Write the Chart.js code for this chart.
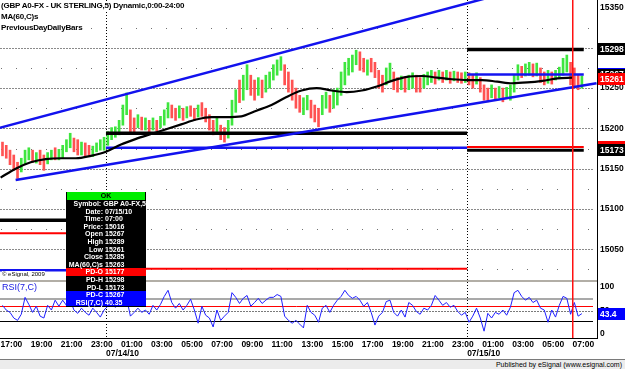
<!DOCTYPE html>
<html>
<head>
<meta charset="utf-8">
<script src="https://cdn.jsdelivr.net/npm/chart.js@4.4.0/dist/chart.umd.min.js"></script>
<style>
body { margin: 0; background: #fff; }
#wrap { position: relative; width: 625px; height: 369px; overflow: hidden; font-family: 'Liberation Sans', Arial, sans-serif; }
#chart { position: absolute; left: 0; top: 0; }
.hdr { position: absolute; left: 1px; font-size: 8px; font-weight: bold; letter-spacing: -0.2px; line-height: 10px; background: #fff; white-space: nowrap; color: #000; }
#tip { position: absolute; left: 66px; top: 192px; width: 80px; background: #000; color: #fff; font-size: 7px; font-weight: bold; padding-bottom: 1px; }
#tip .ok { background: #00ee00; color: #000; text-align: center; height: 8px; line-height: 8px; margin: 0 1px; }
#tip .row { display: flex; height: 7.6px; line-height: 7.6px; white-space: nowrap; }
#tip .k { width: 37px; text-align: right; }
#tip .v { padding-left: 2px; }
#tip .red { background: #ff0000; }
#tip .blue { background: #0000ff; }
#copy { position: absolute; left: 2px; top: 271px; font-size: 6px; line-height: 7px; background: #fff; color: #000; }
#rsiTitle { position: absolute; left: 2px; top: 282px; font-size: 9px; line-height: 10px; color: #1818e0; }
#pub { position: absolute; left: 0; top: 359px; width: 622px; height: 10px; padding-right: 3px; background: #ececec; border-top: 1px solid #7a7a7a; font-size: 7px; line-height: 9px; text-align: right; color: #000; }
</style>
</head>
<body>
<div id="wrap">
  <canvas id="chart" width="625" height="369"></canvas>
  <div class="hdr" style="top:1px">(GBP A0-FX - UK STERLING,5) Dynamic,0:00-24:00</div>
  <div class="hdr" style="top:12px">MA(60,C)s</div>
  <div class="hdr" style="top:23px">PreviousDayDailyBars</div>
  <div id="copy">&copy; eSignal, 2009</div>
  <div id="rsiTitle">RSI(7,C)</div>
  <div id="tip"></div>
  <div id="pub">Published by eSignal (www.esignal.com)</div>
</div>
<script>
'use strict';

// time axis: hours counted from 07/13/10 16:00
var timeTickHours = [1, 3, 5, 7, 9, 11, 13, 15, 17, 19, 21, 23, 25, 27, 29, 31, 33, 35, 37, 39];
var timeLabels = ['17:00', '19:00', '21:00', '23:00', '01:00', '03:00', '05:00', '07:00', '09:00', '11:00',
  '13:00', '15:00', '17:00', '19:00', '21:00', '23:00', '01:00', '03:00', '05:00', '07:00'];
var dateTickHours = [8, 32];
var dateLabels = ['07/14/10', '07/15/10'];

// 15 minute bars starting 07/13 17:00
var firstBarHour = 1;
var barHours = 0.25;
var highs = [
  15183, 15179, 15173, 15167, 15158, 15163, 15173, 15176, 15173, 15170,
  15173, 15167, 15170, 15173, 15176, 15174, 15179, 15186, 15194, 15188,
  15186, 15183, 15182, 15179, 15178, 15182, 15186, 15189, 15196, 15201,
  15202, 15210, 15229, 15244, 15223, 15213, 15217, 15214, 15213, 15210,
  15213, 15210, 15215, 15223, 15232, 15229, 15225, 15228, 15225, 15227,
  15228, 15225, 15229, 15232, 15225, 15217, 15210, 15213, 15204, 15201,
  15210, 15235, 15248, 15260, 15266, 15279, 15266, 15260, 15263, 15260,
  15266, 15270, 15279, 15285, 15289, 15279, 15270, 15260, 15250, 15241,
  15238, 15241, 15235, 15229, 15225, 15241, 15245, 15241, 15248, 15250,
  15270, 15282, 15287, 15291, 15297, 15295, 15287, 15285, 15287, 15282,
  15272, 15266, 15275, 15281, 15270, 15263, 15265, 15263, 15266, 15269,
  15266, 15263, 15267, 15270, 15272, 15270, 15272, 15270, 15272, 15270,
  15271, 15270, 15269, 15270, 15269, 15266, 15269, 15263, 15254, 15250,
  15254, 15250, 15252, 15250, 15251, 15254, 15266, 15279, 15277, 15280,
  15282, 15280, 15281, 15275, 15270, 15272, 15270, 15272, 15276, 15287,
  15291, 15282, 15275, 15266, 15265
];
var lows = [
  15166, 15163, 15155, 15148, 15138, 15146, 15155, 15161, 15158, 15157,
  15155, 15148, 15156, 15161, 15161, 15161, 15163, 15171, 15176, 15171,
  15167, 15167, 15165, 15166, 15165, 15171, 15173, 15173, 15179, 15186,
  15189, 15192, 15204, 15217, 15194, 15194, 15201, 15198, 15198, 15196,
  15198, 15197, 15201, 15204, 15213, 15213, 15210, 15213, 15210, 15213,
  15215, 15210, 15214, 15215, 15208, 15198, 15192, 15194, 15186, 15183,
  15188, 15204, 15220, 15232, 15235, 15248, 15241, 15235, 15241, 15238,
  15245, 15250, 15260, 15266, 15272, 15254, 15245, 15235, 15225, 15220,
  15217, 15223, 15213, 15208, 15202, 15217, 15225, 15220, 15225, 15229,
  15241, 15254, 15266, 15270, 15279, 15272, 15270, 15266, 15270, 15263,
  15250, 15245, 15254, 15260, 15248, 15245, 15248, 15245, 15248, 15250,
  15245, 15245, 15250, 15254, 15257, 15255, 15260, 15257, 15260, 15256,
  15259, 15257, 15256, 15257, 15254, 15250, 15255, 15245, 15235, 15233,
  15238, 15235, 15238, 15233, 15237, 15235, 15245, 15260, 15263, 15265,
  15266, 15264, 15265, 15257, 15254, 15256, 15255, 15260, 15263, 15266,
  15270, 15254, 15250, 15248, 15250
];
var closes = [
  15170, 15167, 15160, 15153, 15143, 15159, 15169, 15172, 15162, 15167,
  15160, 15153, 15167, 15170, 15165, 15171, 15175, 15182, 15190, 15175,
  15172, 15179, 15169, 15169, 15175, 15179, 15183, 15185, 15192, 15197,
  15199, 15206, 15223, 15237, 15201, 15199, 15213, 15202, 15209, 15200,
  15209, 15200, 15211, 15218, 15227, 15217, 15214, 15224, 15214, 15223,
  15218, 15214, 15225, 15219, 15212, 15203, 15196, 15208, 15190, 15187,
  15204, 15227, 15241, 15239, 15258, 15271, 15247, 15241, 15257, 15243,
  15261, 15265, 15274, 15280, 15285, 15260, 15251, 15241, 15231, 15225,
  15233, 15236, 15218, 15213, 15208, 15235, 15240, 15225, 15242, 15245,
  15263, 15275, 15282, 15286, 15292, 15278, 15274, 15280, 15274, 15268,
  15256, 15250, 15270, 15276, 15253, 15249, 15261, 15249, 15262, 15264,
  15250, 15249, 15263, 15266, 15268, 15259, 15269, 15260, 15269, 15259,
  15268, 15260, 15259, 15267, 15258, 15254, 15266, 15249, 15240, 15237,
  15250, 15239, 15249, 15237, 15248, 15250, 15261, 15274, 15266, 15276,
  15278, 15268, 15277, 15261, 15258, 15268, 15259, 15269, 15273, 15282,
  15286, 15261, 15256, 15252, 15261
];
var rsiValues = [
  61, 51, 46, 34, 29, 42, 78, 63, 46, 59,
  38, 34, 61, 51, 72, 59, 72, 61, 72, 51,
  44, 55, 46, 40, 55, 46, 36, 51, 59, 63,
  57, 63, 72, 76, 38, 46, 55, 46, 51, 42,
  61, 51, 63, 80, 93, 67, 55, 65, 51, 61,
  74, 51, 23, 59, 40, 34, 15, 51, 29, 38,
  46, 88, 78, 65, 76, 82, 59, 67, 76, 65,
  72, 78, 78, 84, 80, 38, 29, 23, 29, 21,
  13, 61, 46, 40, 25, 55, 61, 46, 61, 72,
  80, 93, 82, 76, 80, 72, 59, 67, 46, 19,
  38, 46, 69, 72, 46, 38, 51, 36, 67, 61,
  48, 42, 55, 51, 61, 82, 72, 61, 67, 57,
  61, 48, 40, 46, 25, 38, 55, 34, 6, 44,
  34, 46, 42, 51, 40, 57, 88, 93, 80, 72,
  78, 67, 72, 55, 51, 25, 51, 36, 61, 80,
  76, 42, 67, 38, 43.4
];

// MA(60,C) read once per hour from 17:00
var maValues = [
  15139, 15150, 15158, 15162, 15163, 15163, 15166, 15171, 15180, 15187,
  15193, 15199, 15205, 15211, 15214, 15214, 15215, 15222, 15229, 15239,
  15247, 15250, 15247, 15245, 15247, 15252, 15259, 15264, 15265, 15263,
  15261, 15260, 15260, 15258, 15256, 15257, 15259, 15262, 15263
];

// previous day levels per session (07/13, 07/14, 07/15)
var sessionStartHours = [0, 8, 32];
var sessionEndHours = [8, 32, 39.75];
var pdHigh = [15086, 15194, 15298];
var pdOpen = [15070, 15026, 15177];
var pdClose = [15024, 15176, 15267];
var pdLow = [null, null, 15173];

// hand drawn trend channel
var upperTrendHours = [0, 41];
var upperTrendPrices = [15196, 15400];
var lowerTrendHours = [2, 40.6];
var lowerTrendPrices = [15136, 15256];

var cursorHour = 39;
var priceTicks = [15050, 15100, 15150, 15200, 15250, 15300, 15350];
var priceGrid = [15050, 15100, 15150, 15200, 15250, 15300];
var priceDotRows = [15025, 15075, 15125, 15175, 15225, 15275, 15325];
var rsiTicks = [0, 50, 100];
var rsiLevels = [74, 60, 50, 28];
var lastPrice = 15261;

// boxed labels on the price axis
var markerNames = ['PD-H', 'PD-C', 'PD-O', 'PD-L', 'Last'];
var markerValues = [15298, 15267, 15177, 15173, lastPrice];

// data window
var tipKeys = ['Symbol:', 'Date:', 'Time:', 'Price:', 'Open', 'High', 'Low', 'Close', 'MA(60,C)s', 'PD-O', 'PD-H', 'PD-L', 'PD-C', 'RSI(7,C)'];
var tipValues = ['GBP A0-FX,5', '07/15/10', '07:00', '15016', '15267', '15289', '15261', '15285', '15263', '15177', '15298', '15173', '15267', '40.35'];

var markerStyle = {
  'PD-H': { bg: '#000', fg: '#fff' },
  'PD-C': { bg: '#000', fg: '#fff', top: '#0000ff' },
  'PD-O': { bg: '#ff0000', fg: '#fff' },
  'PD-L': { bg: '#000', fg: '#fff' },
  'Last': { bg: '#ff0000', fg: '#fff' }
};
var rsiLevelStyle = [
  { color: '#a9a9a9', width: 2, dash: [] },
  { color: '#ff0000', width: 1, dash: [] },
  { color: '#7a7a7a', width: 1, dash: [2, 1] },
  { color: '#000000', width: 1, dash: [] }
];

// build the data window
var tip = document.getElementById('tip');
var html = '<div class="ok">OK</div>';
for (var t = 0; t < tipKeys.length; t++) {
  var cls = 'row';
  if (tipKeys[t] === 'PD-O') cls += ' red';
  if (tipKeys[t] === 'PD-C' || tipKeys[t] === 'RSI(7,C)') cls += ' blue';
  html += '<div class="' + cls + '"><span class="k">' + tipKeys[t] + '</span><span class="v">' + tipValues[t] + '</span></div>';
}
tip.innerHTML = html;

// bars, rsi and ma points
var barPoints = [];
var barColors = [];
var rsiPoints = [];
for (var i = 0; i < closes.length; i++) {
  var hour = firstBarHour + (i + 0.5) * barHours;
  barPoints.push({ x: hour, y: [lows[i], highs[i]] });
  barColors.push(closes[i] > (highs[i] + lows[i]) / 2 ? '#3ee63e' : '#ff5252');
  rsiPoints.push({ x: hour, y: rsiValues[i] });
}
var maPoints = maValues.map(function (v, k) { return { x: firstBarHour + k, y: v }; });

function segment(hours, prices) {
  return [{ x: hours[0], y: prices[0] }, { x: hours[1], y: prices[1] }];
}

var datasets = [];
datasets.push({ type: 'line', data: rsiPoints, yAxisID: 'yRSI', borderColor: '#1f1fff', borderWidth: 1, pointRadius: 0, order: 1 });
datasets.push({ type: 'line', data: segment(upperTrendHours, upperTrendPrices), yAxisID: 'yPrice', borderColor: '#1212ee', borderWidth: 2.5, pointRadius: 0, order: 2 });
datasets.push({ type: 'line', data: segment(lowerTrendHours, lowerTrendPrices), yAxisID: 'yPrice', borderColor: '#1212ee', borderWidth: 2.5, pointRadius: 0, order: 2 });
datasets.push({ type: 'line', data: maPoints, yAxisID: 'yPrice', borderColor: '#000', borderWidth: 2.2, pointRadius: 0, cubicInterpolationMode: 'monotone', order: 3 });

var pdSets = [
  { values: pdHigh, color: '#000', width: 3.5 },
  { values: pdLow, color: '#000', width: 3 },
  { values: pdOpen, color: '#ff0000', width: 2 },
  { values: pdClose, color: '#1414f0', width: 2.5 }
];
pdSets.forEach(function (s) {
  for (var d = 0; d < sessionStartHours.length; d++) {
    if (s.values[d] === null) continue;
    datasets.push({
      type: 'line',
      data: [{ x: sessionStartHours[d], y: s.values[d] }, { x: sessionEndHours[d], y: s.values[d] }],
      yAxisID: 'yPrice', borderColor: s.color, borderWidth: s.width, pointRadius: 0, order: 4
    });
  }
});
datasets.push({ type: 'bar', data: barPoints, yAxisID: 'yPrice', backgroundColor: barColors, barThickness: 2, borderWidth: 0, order: 9 });

var decor = {
  id: 'decor',
  beforeDatasetsDraw: function (chart) {
    var c = chart.ctx, a = chart.chartArea;
    var xs = chart.scales.x, yp = chart.scales.yPrice, yr = chart.scales.yRSI;
    c.save();
    c.lineWidth = 1;
    c.strokeStyle = '#8a8a8a';
    c.setLineDash([2, 1]);
    priceGrid.forEach(function (v) {
      var y = Math.round(yp.getPixelForValue(v)) + 0.5;
      c.beginPath(); c.moveTo(a.left, y); c.lineTo(a.right - 4, y); c.stroke();
    });
    c.setLineDash([]);
    // dotted rows, one dot each hour
    c.fillStyle = '#707070';
    priceDotRows.forEach(function (v) {
      var y = Math.round(yp.getPixelForValue(v));
      for (var h = Math.ceil(xs.min); h <= xs.max; h++) {
        c.fillRect(Math.round(xs.getPixelForValue(h)), y, 1, 1);
      }
    });
    // rsi levels
    rsiLevels.forEach(function (v, k) {
      var st = rsiLevelStyle[k];
      var y = Math.round(yr.getPixelForValue(v)) + (st.width % 2 ? 0.5 : 0);
      c.strokeStyle = st.color; c.lineWidth = st.width; c.setLineDash(st.dash);
      c.beginPath(); c.moveTo(a.left, y); c.lineTo(a.right - 4, y); c.stroke();
    });
    // day separators
    c.strokeStyle = '#000'; c.lineWidth = 1; c.setLineDash([1, 2]);
    sessionStartHours.slice(1).forEach(function (h) {
      var x = Math.round(xs.getPixelForValue(h)) + 0.5;
      c.beginPath(); c.moveTo(x, a.top); c.lineTo(x, a.bottom); c.stroke();
    });
    c.restore();
  },
  afterDatasetsDraw: function (chart) {
    var c = chart.ctx, a = chart.chartArea;
    var xs = chart.scales.x, yp = chart.scales.yPrice;
    c.save();
    // panel separator
    c.fillStyle = '#b2aea6';
    c.fillRect(a.left, Math.round(yp.bottom) - 1, a.right - a.left, 2);
    // cursor
    var x = Math.round(xs.getPixelForValue(cursorHour));
    c.fillStyle = '#ff1010';
    c.fillRect(x, a.top, 1.5, a.bottom - a.top);
    c.restore();
  },
  afterDraw: function (chart) {
    var c = chart.ctx, a = chart.chartArea;
    var yp = chart.scales.yPrice, yr = chart.scales.yRSI;
    c.save();
    c.font = 'bold 8.5px "Liberation Sans", Arial, sans-serif';
    c.textBaseline = 'middle';
    function box(y, text, st) {
      var top = Math.round(y) - 6;
      c.fillStyle = st.bg;
      c.fillRect(a.right + 1, top, chart.width - a.right - 1, 12);
      if (st.top) { c.fillStyle = st.top; c.fillRect(a.right + 1, top, chart.width - a.right - 1, 1); }
      c.fillStyle = st.fg;
      c.fillText(text, a.right + 3, Math.round(y) + 0.5);
    }
    markerValues.forEach(function (v, k) {
      box(yp.getPixelForValue(v), String(v), markerStyle[markerNames[k]]);
    });
    var lastRsi = rsiValues[rsiValues.length - 1];
    box(yr.getPixelForValue(lastRsi), lastRsi.toFixed(1), { bg: '#0000ff', fg: '#fff' });
    c.restore();
  }
};

function noPad(s) {
  s.paddingTop = 0; s.paddingBottom = 0; s.paddingLeft = 0; s.paddingRight = 0;
}

var axisFont = { family: "'Liberation Sans', Arial, sans-serif", size: 8.5, weight: 'bold' };

var ctx = document.getElementById('chart').getContext('2d');
var chart = new Chart(ctx, {
  type: 'line',
  data: { datasets: datasets },
  options: {
    responsive: false,
    animation: false,
    devicePixelRatio: 1,
    events: [],
    layout: { padding: { left: 0, top: 0, right: 0, bottom: 10 } },
    plugins: { legend: { display: false }, tooltip: { enabled: false } },
    scales: {
      x: {
        type: 'linear', position: 'bottom', min: 0.96, max: 40.63, offset: false,
        grid: { display: false, drawTicks: false },
        border: { display: true, color: '#000' },
        afterBuildTicks: function (s) { s.ticks = timeTickHours.map(function (h) { return { value: h }; }); },
        afterFit: function (s) { s.height = 11; noPad(s); },
        ticks: {
          autoSkip: false, maxRotation: 0, align: 'start', padding: 2, color: '#000', font: axisFont,
          callback: function (v, k) { return timeLabels[k]; }
        }
      },
      x2: {
        type: 'linear', axis: 'x', position: 'bottom', min: 0.96, max: 40.63, offset: false,
        grid: { display: false, drawTicks: false },
        border: { display: false },
        afterBuildTicks: function (s) { s.ticks = dateTickHours.map(function (h) { return { value: h }; }); },
        afterFit: function (s) { s.height = 10; noPad(s); },
        ticks: {
          autoSkip: false, maxRotation: 0, align: 'start', padding: 0, color: '#000', font: axisFont,
          callback: function (v, k) { return dateLabels[k]; }
        }
      },
      yPrice: {
        type: 'linear', axis: 'y', position: 'right', stack: 'panels', stackWeight: 281,
        min: 15010.7, max: 15359.3, offset: false,
        grid: { display: false, drawTicks: false },
        border: { display: true, color: '#000' },
        afterBuildTicks: function (s) { s.ticks = priceTicks.map(function (v) { return { value: v }; }); },
        afterFit: function (s) { s.width = 28; noPad(s); },
        ticks: {
          padding: 3, color: '#000', font: axisFont,
          callback: function (v) {
            var hidden = markerValues.some(function (m) { return Math.abs(m - v) < 5; });
            return hidden ? '' : String(v);
          }
        }
      },
      yRSI: {
        type: 'linear', axis: 'y', position: 'right', stack: 'panels', stackWeight: 57,
        min: -8.5, max: 112.8, offset: false,
        grid: { display: false, drawTicks: false },
        border: { display: true, color: '#000' },
        afterBuildTicks: function (s) { s.ticks = rsiTicks.map(function (v) { return { value: v }; }); },
        afterFit: function (s) { s.width = 28; noPad(s); },
        ticks: { padding: 3, color: '#000', font: axisFont, callback: function (v) { return String(v); } }
      }
    }
  },
  plugins: [decor]
});
</script>
</body>
</html>
